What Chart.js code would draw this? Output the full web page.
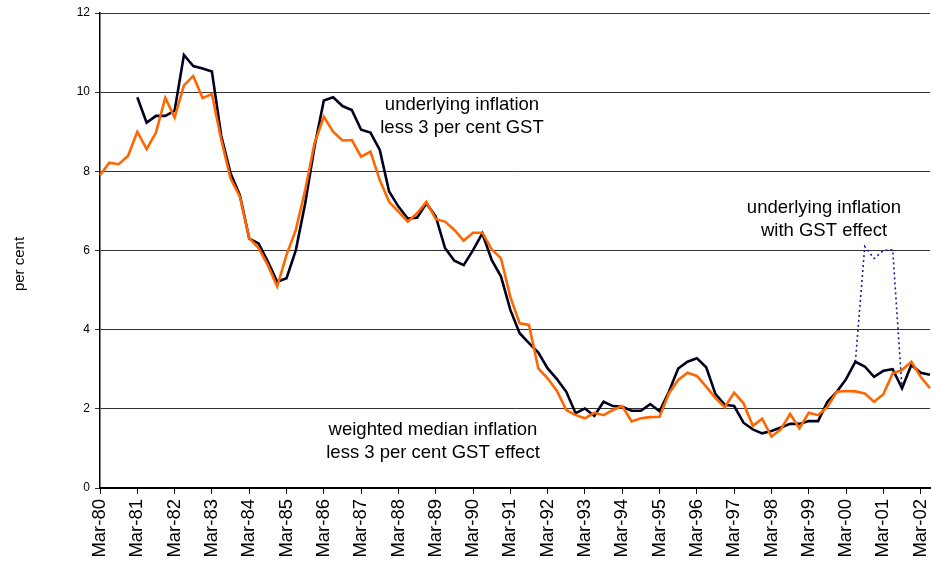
<!DOCTYPE html>
<html>
<head>
<meta charset="utf-8">
<script src="https://cdn.jsdelivr.net/npm/chart.js@4/dist/chart.umd.min.js"></script>
<style>
  body { margin: 0; background: #fff; }
  #wrap { width: 932px; height: 562px; }
</style>
</head>
<body>
<div id="wrap"><canvas id="chart" width="932" height="562"></canvas></div>
<script>
// Quarterly categories, Mar-80 .. Jun-02
const quarterMonths = ['Mar', 'Jun', 'Sep', 'Dec'];
const years = ['80','81','82','83','84','85','86','87','88','89','90','91','92','93','94','95','96','97','98','99','00','01','02'];
const categories = [];
years.forEach(y => quarterMonths.forEach(m => categories.push(m + '-' + y)));
categories.splice(90); // series ends at Jun-02

const yTicks = [0, 2, 4, 6, 8, 10, 12];

// weighted median inflation less 3 per cent GST effect
const weightedMedian = [
  7.90, 8.22, 8.18, 8.39, 9.00, 8.56, 8.98, 9.86, 9.36, 10.17,
  10.41, 9.85, 9.95, 8.80, 7.82, 7.36, 6.31, 6.06, 5.63, 5.09,
  5.89, 6.52, 7.53, 8.71, 9.38, 9.00, 8.78, 8.79, 8.37, 8.50,
  7.78, 7.23, 6.98, 6.73, 6.94, 7.23, 6.79, 6.73, 6.52, 6.25,
  6.45, 6.45, 6.03, 5.80, 4.83, 4.16, 4.12, 3.02, 2.77, 2.45,
  1.97, 1.84, 1.76, 1.90, 1.84, 1.97, 2.07, 1.68, 1.76, 1.79,
  1.80, 2.39, 2.73, 2.91, 2.83, 2.56, 2.27, 2.04, 2.41, 2.14,
  1.57, 1.75, 1.30, 1.48, 1.87, 1.51, 1.90, 1.84, 2.05, 2.43,
  2.45, 2.44, 2.39, 2.18, 2.37, 2.90, 2.98, 3.19, 2.81, 2.52
];

// underlying inflation less 3 per cent GST effect
const underlying = [
  null, null, null, null, 9.87, 9.23, 9.40, 9.40, 9.53, 10.94,
  10.66, 10.60, 10.52, 8.90, 7.95, 7.40, 6.30, 6.18, 5.72, 5.21,
  5.30, 6.01, 7.19, 8.62, 9.79, 9.87, 9.65, 9.55, 9.05, 8.98,
  8.54, 7.49, 7.11, 6.81, 6.83, 7.19, 6.86, 6.06, 5.74, 5.63,
  6.01, 6.43, 5.76, 5.34, 4.50, 3.91, 3.66, 3.42, 3.02, 2.75,
  2.43, 1.89, 2.01, 1.82, 2.18, 2.07, 2.05, 1.95, 1.95, 2.12,
  1.94, 2.43, 3.02, 3.19, 3.28, 3.05, 2.37, 2.10, 2.07, 1.65,
  1.48, 1.38, 1.44, 1.53, 1.62, 1.62, 1.69, 1.69, 2.18, 2.43,
  2.75, 3.19, 3.07, 2.81, 2.96, 3.00, 2.52, 3.11, 2.91, 2.86
];

// underlying inflation with GST effect (only differs Sep-00 .. Jun-01)
const underlyingWithGst = [
  null, null, null, null, null, null, null, null, null, null,
  null, null, null, null, null, null, null, null, null, null,
  null, null, null, null, null, null, null, null, null, null,
  null, null, null, null, null, null, null, null, null, null,
  null, null, null, null, null, null, null, null, null, null,
  null, null, null, null, null, null, null, null, null, null,
  null, null, null, null, null, null, null, null, null, null,
  null, null, null, null, null, null, null, null, null, null,
  null, 3.19, 6.10, 5.80, 6.00, 6.02, 2.52, null, null, null
];

// annotation texts drawn on the canvas
const notes = [
  { lines: ['underlying inflation', 'less 3 per cent GST'], x: 462, y: 105 },
  { lines: ['underlying inflation', 'with GST effect'], x: 824, y: 208 },
  { lines: ['weighted median inflation', 'less 3 per cent GST effect'], x: 433, y: 430 }
];

const notesPlugin = {
  id: 'notes',
  afterDatasetsDraw(chart) {
    const c = chart.ctx;
    c.save();
    c.fillStyle = '#000';
    c.font = '18.5px "Liberation Sans", Arial, sans-serif';
    c.textAlign = 'center';
    c.textBaseline = 'middle';
    notes.forEach(n => {
      n.lines.forEach((t, k) => c.fillText(t, n.x, n.y + k * 23));
    });
    // y axis title
    c.translate(20, 264);
    c.rotate(-Math.PI / 2);
    c.font = '15px "Liberation Sans", Arial, sans-serif';
    c.fillText('per cent', 0, 0);
    c.restore();
  }
};

const ctx = document.getElementById('chart').getContext('2d');
new Chart(ctx, {
  type: 'line',
  data: {
    labels: categories,
    datasets: [
      {
        label: 'weighted median inflation less 3 per cent GST effect',
        data: weightedMedian,
        borderColor: '#ff6600',
        borderWidth: 2.6,
        pointRadius: 0,
        tension: 0,
        fill: false
      },
      {
        label: 'underlying inflation less 3 per cent GST effect',
        data: underlying,
        borderColor: '#00001e',
        borderWidth: 2.6,
        pointRadius: 0,
        tension: 0,
        fill: false
      },
      {
        label: 'underlying inflation with GST effect',
        data: underlyingWithGst,
        borderColor: '#1a1a99',
        borderWidth: 1.6,
        borderDash: [2, 3],
        pointRadius: 0,
        tension: 0,
        fill: false
      }
    ]
  },
  options: {
    responsive: false,
    animation: false,
    layout: { padding: { top: 13, right: 2, bottom: 0, left: 0 } },
    plugins: {
      legend: { display: false },
      tooltip: { enabled: false }
    },
    scales: {
      x: {
        type: 'category',
        offset: false,
        afterFit: s => { s.height = 74; s.paddingLeft = 0; s.paddingRight = 0; },
        border: { color: '#000', width: 2 },
        grid: {
          drawOnChartArea: false,
          drawTicks: true,
          tickLength: 6,
          color: '#000',
          lineWidth: 1
        },
        ticks: {
          autoSkip: false,
          minRotation: 90,
          maxRotation: 90,
          padding: 5,
          color: '#000',
          font: { family: '"Liberation Sans", Arial, sans-serif', size: 18.5 },
          callback: function (v, i) { return i % 4 === 0 ? categories[i] : null; }
        }
      },
      y: {
        min: 0,
        max: 12,
        afterFit: s => { s.width = 100; },
        afterBuildTicks: s => { s.ticks = yTicks.map(v => ({ value: v })); },
        border: { color: '#000', width: 1.5 },
        grid: {
          color: '#333',
          lineWidth: 1,
          tickLength: 5
        },
        ticks: {
          padding: 5,
          color: '#000',
          font: { family: '"Liberation Sans", Arial, sans-serif', size: 12 }
        }
      }
    }
  },
  plugins: [notesPlugin]
});
</script>
</body>
</html>
